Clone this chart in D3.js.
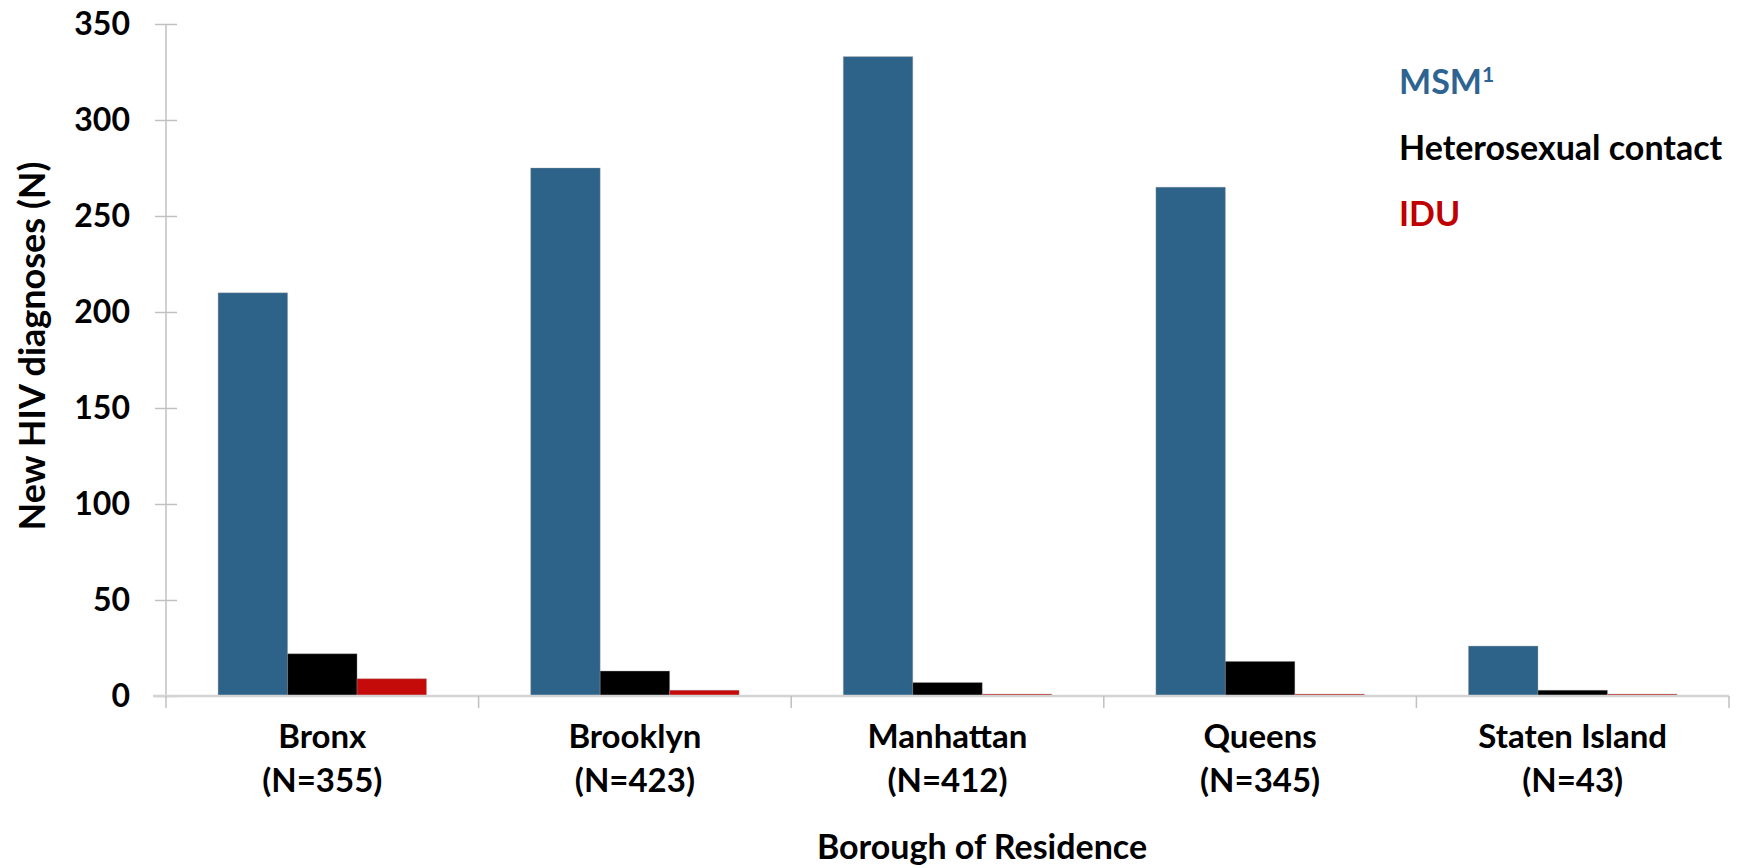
<!DOCTYPE html>
<html>
<head>
<meta charset="utf-8">
<script src="https://cdn.jsdelivr.net/npm/d3@7"></script>
<style>
  html, body { margin: 0; padding: 0; background: #fff; }
  svg { display: block; font-family: "Lato", "Open Sans", sans-serif; font-weight: bold; }
</style>
</head>
<body>
<svg id="chart" width="1738" height="868"></svg>
<script>
// New HIV diagnoses by borough of residence and transmission risk
const boroughs = ["Bronx", "Brooklyn", "Manhattan", "Queens", "Staten Island"];
const boroughTotals = ["(N=355)", "(N=423)", "(N=412)", "(N=345)", "(N=43)"];
const seriesNames = ["MSM", "Heterosexual contact", "IDU"];
const msmValues = [210, 275, 333, 265, 26];
const heteroValues = [22, 13, 7, 18, 3];
const iduValues = [9, 3, 1, 1, 1];
const yTicks = [0, 50, 100, 150, 200, 250, 300, 350];
const seriesColors = ["#2E6389", "#000000", "#C50A0A"];
const legendColors = ["#2E6491", "#000000", "#C00000"];

const seriesValues = [msmValues, heteroValues, iduValues];
const rows = boroughs.map((b, i) => ({
  borough: b,
  values: seriesNames.map((s, j) => ({ series: s, value: seriesValues[j][i], color: seriesColors[j] }))
}));

const svg = d3.select("#chart");
const plotLeft = 166, plotRight = 1729, plotTop = 24, plotBottom = 696;

const x0 = d3.scaleBand().domain(boroughs).range([plotLeft, plotRight]).paddingInner(0).paddingOuter(0);
const x1 = d3.scaleBand().domain(seriesNames).range([0, x0.bandwidth()]).paddingInner(0).paddingOuter(0.75);
const y = d3.scaleLinear().domain([0, 350]).range([plotBottom, plotTop]);

// Bars
const groups = svg.append("g").selectAll("g").data(rows).join("g")
  .attr("transform", d => `translate(${x0(d.borough)},0)`);
groups.selectAll("rect").data(d => d.values).join("rect")
  .attr("x", d => x1(d.series))
  .attr("width", x1.bandwidth())
  .attr("y", d => y(d.value))
  .attr("height", d => y(0) - y(d.value))
  .attr("fill", d => d.color)
  .attr("stroke", "#9a9a9a")
  .attr("stroke-opacity", 0.35)
  .attr("stroke-width", 1);

// Y axis with ticks crossing the axis line
const yAxis = svg.append("g")
  .attr("transform", `translate(${plotLeft},0)`)
  .call(d3.axisLeft(y).tickValues(yTicks).tickSize(11).tickPadding(25));
yAxis.select(".domain").attr("stroke", "#c0c0c0").attr("stroke-width", 1.5)
  .attr("d", `M0,${plotTop}V${plotBottom}`);
yAxis.selectAll(".tick line").attr("x1", -11).attr("x2", 11).attr("stroke", "#c0c0c0").attr("stroke-width", 1.5);
yAxis.selectAll(".tick text")
  .attr("fill", "#000").attr("font-size", 32).attr("font-weight", "bold")
  .attr("font-family", "Lato, 'Open Sans', sans-serif");

// X axis: baseline and category separators
const xAxis = svg.append("g").attr("transform", `translate(0,${plotBottom})`);
xAxis.append("line").attr("x1", plotLeft - 13).attr("x2", plotRight)
  .attr("y1", 0).attr("y2", 0).attr("stroke", "#d4d4d4").attr("stroke-width", 2.5);
const edges = boroughs.map(b => x0(b)).concat([plotRight]);
xAxis.selectAll("line.sep").data(edges).join("line").attr("class", "sep")
  .attr("x1", d => d).attr("x2", d => d).attr("y1", 0).attr("y2", 12)
  .attr("stroke", "#c0c0c0").attr("stroke-width", 1.5);

// Category labels
const labels = svg.append("g").selectAll("text").data(boroughs).join("text")
  .attr("x", d => x0(d) + x0.bandwidth() / 2)
  .attr("text-anchor", "middle")
  .attr("font-size", 33)
  .attr("fill", "#000");
labels.append("tspan").attr("x", d => x0(d) + x0.bandwidth() / 2).attr("y", 748).text(d => d);
labels.append("tspan").attr("x", d => x0(d) + x0.bandwidth() / 2).attr("y", 792).text((d, i) => boroughTotals[i]);

// Axis titles
svg.append("text")
  .attr("x", 982).attr("y", 859)
  .attr("text-anchor", "middle").attr("font-size", 34).attr("fill", "#000")
  .text("Borough of Residence");
svg.append("text")
  .attr("transform", `translate(45,${346}) rotate(-90)`)
  .attr("text-anchor", "middle").attr("font-size", 36).attr("fill", "#000")
  .text("New HIV diagnoses (N)");

// Legend (text only)
const legendBaselines = [94, 160, 226];
const legend = svg.append("g");
seriesNames.forEach((s, i) => {
  const t = legend.append("text")
    .attr("x", 1399).attr("y", legendBaselines[i])
    .attr("font-size", 34).attr("fill", legendColors[i]);
  t.append("tspan").text(s);
  if (i === 0) {
    t.append("tspan").attr("font-size", 21).attr("dy", -12).text("1");
  }
});
</script>
</body>
</html>
